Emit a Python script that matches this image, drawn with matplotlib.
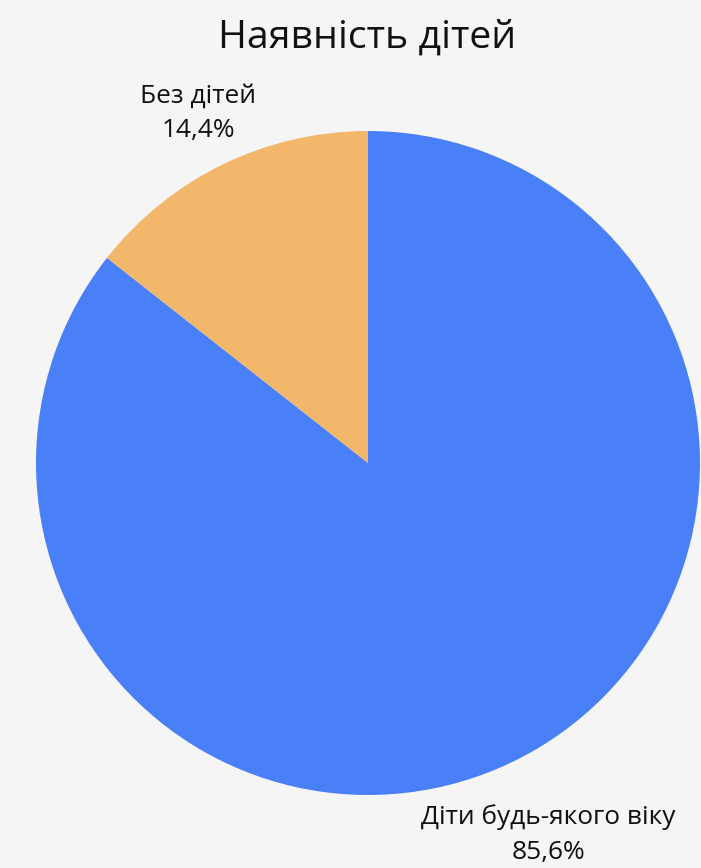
import numpy as np
import matplotlib
matplotlib.use("Agg")
import matplotlib.pyplot as plt

plt.rcParams['font.family'] = ['Open Sans', 'DejaVu Sans']

labels = ["Діти будь-якого віку", "Без дітей"]
shares = [85.6, 14.4]
colors = ["#4a80f7", "#f3b76c"]
# how far out each label sits (in radii)
label_dist = [1.245, 1.17]

fig = plt.figure(figsize=(7.01, 8.68), dpi=100, facecolor="#f5f5f5")
ax = fig.add_axes([36 / 701, 73 / 868, 664 / 701, 664 / 868])
ax.set_facecolor("#f5f5f5")

wedges, texts = ax.pie(shares, colors=colors, startangle=90, counterclock=False,
                       radius=1, labels=[f"{l}\n{s:.1f}%".replace(".", ",") for l, s in zip(labels, shares)],
                       labeldistance=1.2, textprops=dict(fontsize=18.9, ha="center", va="center",
                                                         color="#111111", linespacing=1.5))
for w, t, d in zip(wedges, texts, label_dist):
    ang = np.deg2rad((w.theta1 + w.theta2) / 2)
    t.set_position((d * np.cos(ang), d * np.sin(ang)))
    t.set_ha("center")

ax.set_xlim(-1, 1)
ax.set_ylim(-1, 1)
ax.set_aspect("equal")
ax.axis("off")

fig.text(367 / 701, 1 - 38 / 868, "Наявність дітей", fontsize=28.3, ha="center", va="center",
         color="#111111")

fig.savefig("out.png", dpi=100, facecolor=fig.get_facecolor())
